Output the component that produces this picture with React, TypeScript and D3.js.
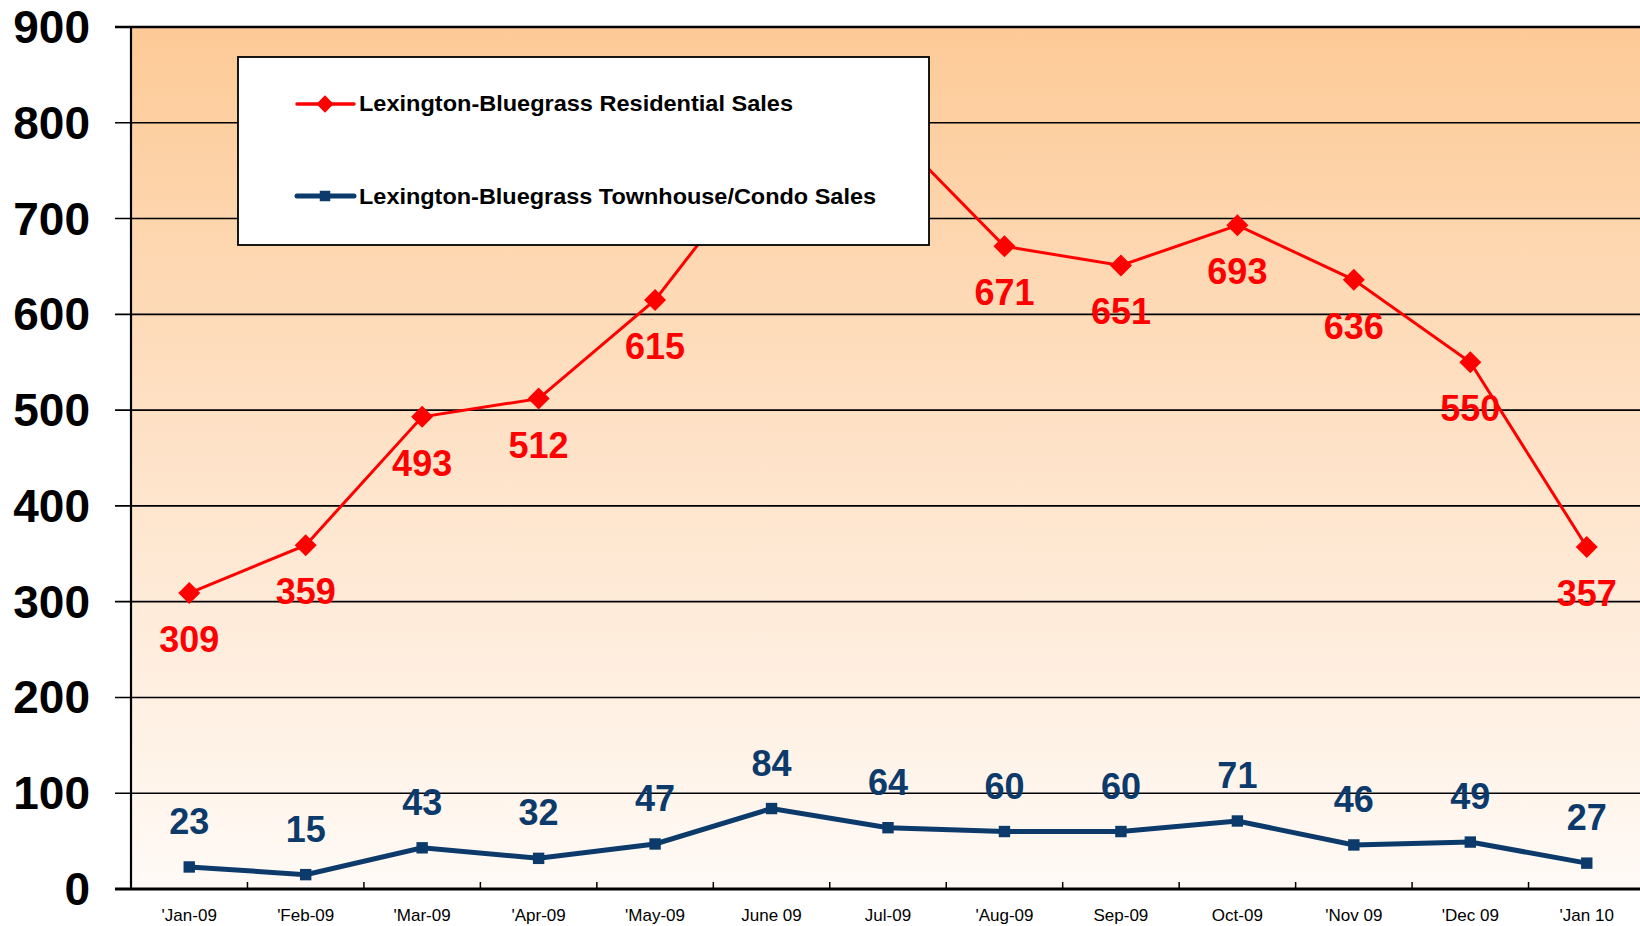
import React from "react";
import * as d3 from "d3";

const months = [
  "'Jan-09", "'Feb-09", "'Mar-09", "'Apr-09", "'May-09", "June 09", "Jul-09",
  "'Aug-09", "Sep-09", "Oct-09", "'Nov 09", "'Dec 09", "'Jan 10",
];
const residential = [309, 359, 493, 512, 615, 772, 795, 671, 651, 693, 636, 550, 357];
const condo = [23, 15, 43, 32, 47, 84, 64, 60, 60, 71, 46, 49, 27];
const yTicks = [0, 100, 200, 300, 400, 500, 600, 700, 800, 900];
const seriesNames = [
  "Lexington-Bluegrass Residential Sales",
  "Lexington-Bluegrass Townhouse/Condo Sales",
];

const W = 1640;
const H = 926;
const FONT = "'Liberation Sans', Arial, Helvetica, sans-serif";
const RED = "#ff0000";
const NAVY = "#0b3a6b";

// legend box (sits on top of the plot and hides part of the red line)
const legend = { x: 238, y: 57, w: 691, h: 188 };

export default function App() {
  const left = 131;
  const right = 1645;
  const x = d3.scaleBand<string>().domain(months).range([left, right]);
  const y = d3.scaleLinear().domain([0, 900]).range([889, 27]);
  const cx = (i: number) => (x(months[i]) as number) + x.bandwidth() / 2;

  const line = d3
    .line<number>()
    .x((_, i) => cx(i))
    .y((d) => y(d));

  const diamond = d3.symbol(d3.symbolSquare, 242)() as string;
  const square = d3.symbol(d3.symbolSquare, 130)() as string;
  const legDiamond = d3.symbol(d3.symbolSquare, 150)() as string;
  const legSquare = d3.symbol(d3.symbolSquare, 110)() as string;

  // labels fully covered by the legend are not visible in the chart
  const hidden = (lx: number, ly: number) =>
    lx + 34 < legend.x + legend.w && lx - 34 > legend.x && ly - 26 > legend.y && ly < legend.y + legend.h;

  return (
    <svg
      width={W}
      height={H}
      style={{ position: "absolute", left: 0, top: 0, background: "#fff" }}
      fontFamily={FONT}
    >
      <defs>
        <linearGradient id="bg" x1="0" y1="0" x2="0" y2="1">
          <stop offset="0" stopColor="#fdca96" />
          <stop offset="0.5" stopColor="#fee3c9" />
          <stop offset="1" stopColor="#fffaf6" />
        </linearGradient>
      </defs>

      {/* plot background */}
      <rect x={left} y={y(900)} width={right - left} height={y(0) - y(900)} fill="url(#bg)" />

      {/* grid + y ticks */}
      {yTicks.map((t) => (
        <g key={t}>
          <line x1={115} x2={W} y1={y(t)} y2={y(t)} stroke="#000" strokeWidth={t === 0 ? 3 : t === 900 ? 2.5 : 1.6} />
          <text x={90} y={y(t) + 16} textAnchor="end" fontSize={46} fontWeight="bold" fill="#000">
            {t}
          </text>
        </g>
      ))}
      <line x1={left} x2={left} y1={y(900)} y2={y(0)} stroke="#000" strokeWidth={2.2} />

      {/* x ticks */}
      {months.map((m, i) =>
        i === 0 ? null : (
          <line key={"t" + m} x1={x(m)} x2={x(m)} y1={y(0) - 7} y2={y(0)} stroke="#000" strokeWidth={1.5} />
        )
      )}
      {months.map((m, i) => (
        <text key={"l" + m} x={cx(i)} y={921} textAnchor="middle" fontSize={17} fill="#000">
          {m}
        </text>
      ))}

      {/* residential series */}
      <path d={line(residential) as string} fill="none" stroke={RED} strokeWidth={3} />
      {residential.map((v, i) => (
        <path key={"rm" + i} d={diamond} transform={`translate(${cx(i)},${y(v)}) rotate(45)`} fill={RED} />
      ))}

      {/* condo series */}
      <path d={line(condo) as string} fill="none" stroke={NAVY} strokeWidth={5} />
      {condo.map((v, i) => (
        <path key={"cm" + i} d={square} transform={`translate(${cx(i)},${y(v)})`} fill={NAVY} />
      ))}

      {/* data labels */}
      {residential.map((v, i) =>
        hidden(cx(i), y(v) + 59) ? null : (
          <text key={"rl" + i} x={cx(i)} y={y(v) + 59} textAnchor="middle" fontSize={36} fontWeight="bold" fill={RED}>
            {v}
          </text>
        )
      )}
      {condo.map((v, i) => (
        <text key={"cl" + i} x={cx(i)} y={y(v) - 33} textAnchor="middle" fontSize={36} fontWeight="bold" fill={NAVY}>
          {v}
        </text>
      ))}

      {/* legend */}
      <g>
        <rect x={legend.x} y={legend.y} width={legend.w} height={legend.h} fill="#fff" stroke="#000" strokeWidth={1.8} />
        <line x1={297} x2={354} y1={104} y2={104} stroke={RED} strokeWidth={3.5} strokeLinecap="round" />
        <path d={legDiamond} transform="translate(325,104) rotate(45)" fill={RED} />
        <text x={359} y={111} fontSize={22} fontWeight="bold" fill="#000" textLength={434} lengthAdjust="spacingAndGlyphs">
          {seriesNames[0]}
        </text>
        <line x1={297} x2={354} y1={196} y2={196} stroke={NAVY} strokeWidth={5} strokeLinecap="round" />
        <path d={legSquare} transform="translate(325,196)" fill={NAVY} />
        <text x={359} y={204} fontSize={22} fontWeight="bold" fill="#000" textLength={517} lengthAdjust="spacingAndGlyphs">
          {seriesNames[1]}
        </text>
      </g>
    </svg>
  );
}
